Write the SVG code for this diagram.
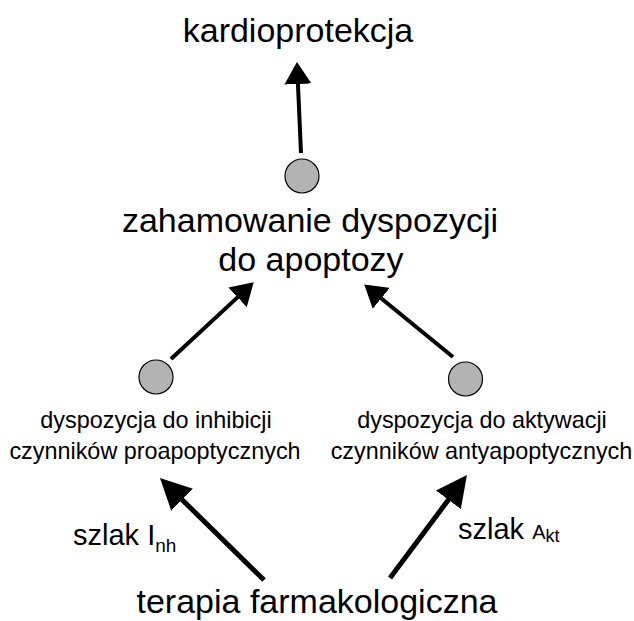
<svg xmlns="http://www.w3.org/2000/svg" width="634" height="621" viewBox="0 0 634 621">
<style>
text{font-family:"Liberation Sans",Arial,sans-serif;fill:#000}
.big{font-size:34px}
.small{font-size:23.4px}
.lab{font-size:29px}
.dot{fill:#b3b3b3;stroke:#000;stroke-width:1.2}
.arr{stroke:#000;fill:none}
</style>
<defs>
<marker id="hs" markerUnits="userSpaceOnUse" markerWidth="22" markerHeight="27" refX="1" refY="13.5" orient="auto">
<path d="M0,0 L22,13.5 L0,27 z" fill="#000"/>
</marker>
<marker id="hl" markerUnits="userSpaceOnUse" markerWidth="31" markerHeight="31" refX="1" refY="15.5" orient="auto">
<path d="M0,0 L31,15.5 L0,31 z" fill="#000"/>
</marker>
</defs>
<rect width="634" height="621" fill="#fff"/>
<g id="connectors">
<line class="arr" x1="301" y1="153" x2="297.9" y2="83" stroke-width="4" marker-end="url(#hs)"/>
<line class="arr" x1="171" y1="359" x2="238.3" y2="296.6" stroke-width="4" marker-end="url(#hs)"/>
<line class="arr" x1="453" y1="357" x2="380.5" y2="297.7" stroke-width="4" marker-end="url(#hs)"/>
<line class="arr" x1="264" y1="580" x2="181.4" y2="499" stroke-width="5" marker-end="url(#hl)"/>
<line class="arr" x1="390" y1="578" x2="449" y2="499" stroke-width="5" marker-end="url(#hl)"/>
</g>
<g id="kardioprotekcja">
<text class="big" x="298" y="42" text-anchor="middle">kardioprotekcja</text>
</g>
<g id="zahamowanie">
<circle class="dot" cx="302" cy="176" r="17"/>
<text class="big" x="310" y="232" text-anchor="middle">zahamowanie dyspozycji</text>
<text class="big" x="311" y="271" text-anchor="middle">do apoptozy</text>
</g>
<g id="inhibicja">
<circle class="dot" cx="156" cy="377" r="17"/>
<text class="small" x="156" y="428" text-anchor="middle">dyspozycja do inhibicji</text>
<text class="small" x="155" y="459" text-anchor="middle">czynników proapoptycznych</text>
</g>
<g id="aktywacja">
<circle class="dot" cx="465.5" cy="379" r="17"/>
<text class="small" x="482" y="428" text-anchor="middle">dyspozycja do aktywacji</text>
<text class="small" x="481.5" y="459" text-anchor="middle">czynników antyapoptycznych</text>
</g>
<g id="szlak-inh">
<text class="lab" x="73" y="545">szlak I<tspan font-size="19" dy="7">nh</tspan></text>
</g>
<g id="szlak-akt">
<text class="lab" x="458" y="539">szlak <tspan font-size="20">A</tspan><tspan font-size="18" dy="3">kt</tspan></text>
</g>
<g id="terapia">
<text class="big" x="317" y="613" text-anchor="middle">terapia farmakologiczna</text>
</g>
</svg>
